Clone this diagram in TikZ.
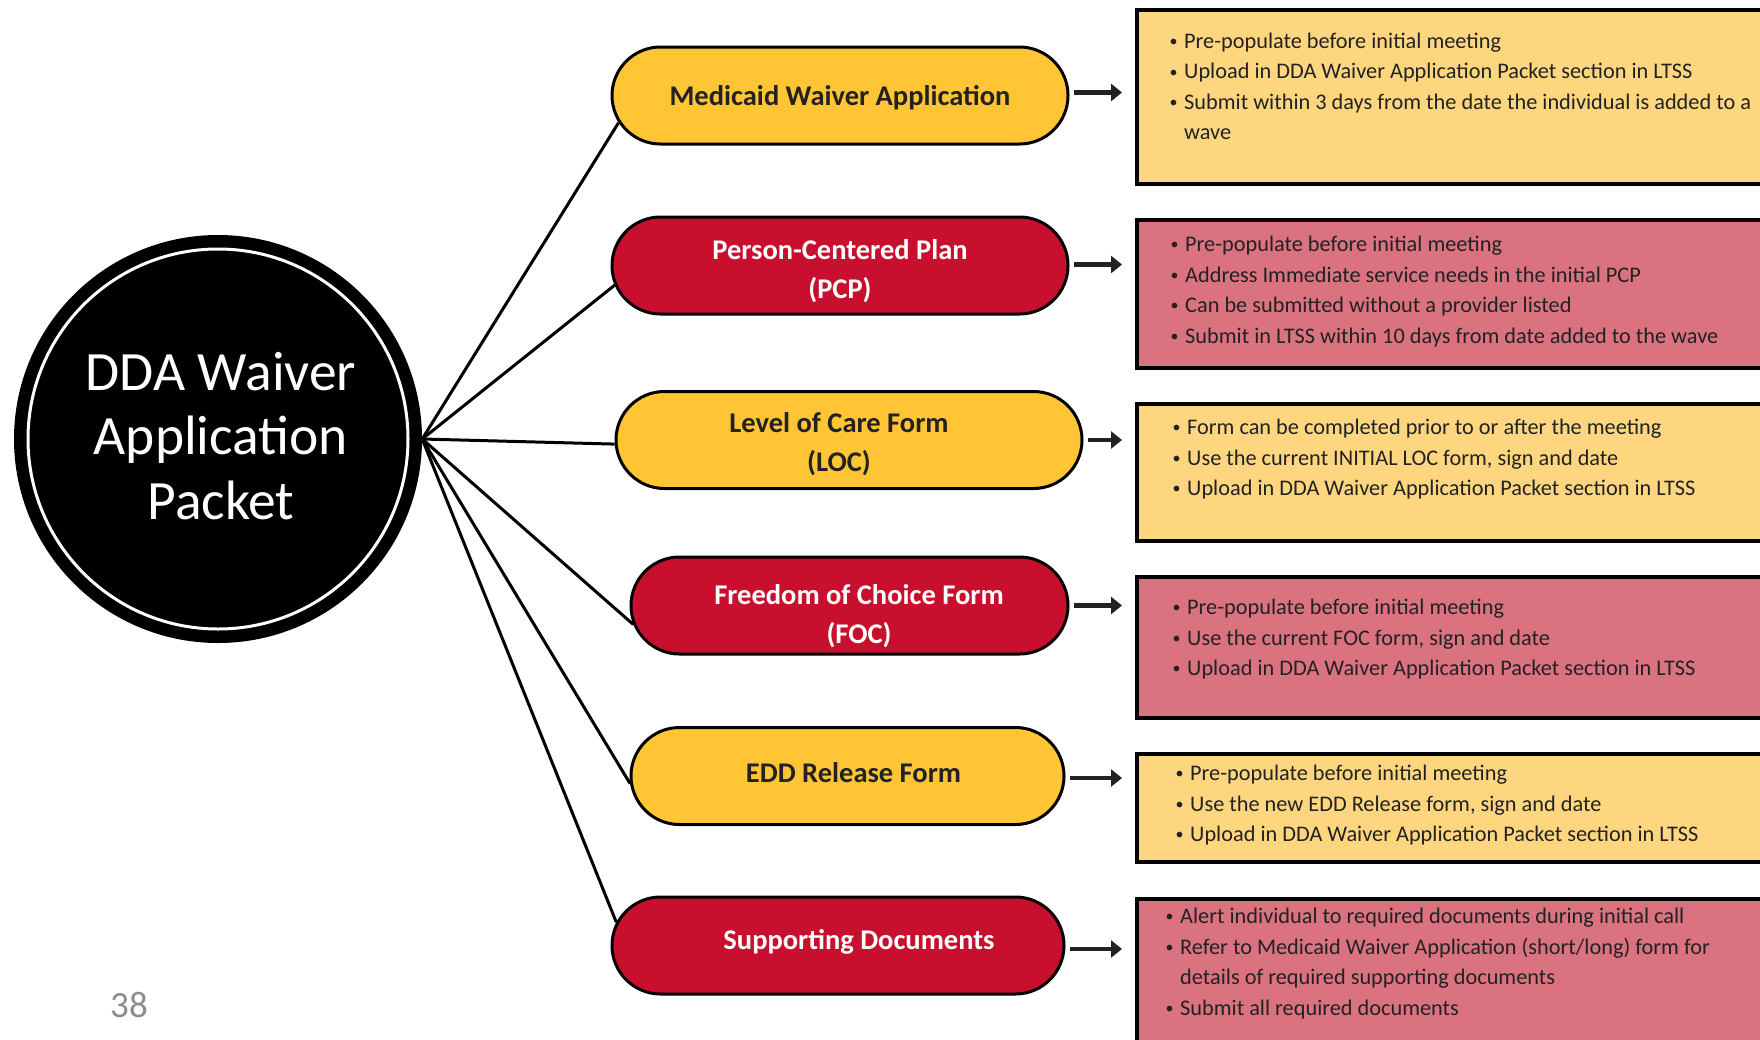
\documentclass[tikz,border=0pt]{standalone}
\usepackage{fontspec}
\setmainfont{Carlito}
\usetikzlibrary{shapes.misc,arrows.meta}
\definecolor{pillY}{HTML}{FFC535}
\definecolor{pillR}{HTML}{C8102E}
\definecolor{boxY}{HTML}{FED67F}
\definecolor{boxR}{HTML}{DB7280}
\definecolor{ink}{HTML}{222222}
\definecolor{pagegray}{HTML}{8C8C8C}
\newcommand{\bul}{\makebox[13pt][l]{\hspace{-1.5pt}\raisebox{1.8pt}{\fontsize{16}{16}\selectfont\textbullet}}}
\newcommand{\cont}{\hspace*{13pt}}
\tikzset{
  pill/.style={rounded rectangle, draw=black, line width=3pt, minimum height=97pt, inner sep=0pt},
  pillyellow/.style={pill, fill=pillY},
  pillred/.style={pill, fill=pillR},
  pilllabel/.style={align=center, inner sep=0pt, font=\fontsize{28.5}{39}\selectfont\bfseries},
  darklabel/.style={pilllabel, text=ink},
  lightlabel/.style={pilllabel, text=white},
  infobox/.style={rectangle, draw=black, line width=3.5pt, minimum width=680pt, anchor=north west, inner sep=0pt},
  infoyellow/.style={infobox, fill=boxY},
  infored/.style={infobox, fill=boxR},
  listtext/.style={anchor=north west, inner sep=0pt, align=left, text=ink, font=\fontsize{22.3}{30.5}\selectfont},
  spoke/.style={draw=black, line width=3pt},
  pointer/.style={draw=ink, line width=4.5pt, -{Triangle[length=11pt,width=17pt]}, shorten <=4pt, shorten >=13pt},
}
\begin{document}
\begin{tikzpicture}[x=1pt,y=-1pt]
\useasboundingbox (0,0) rectangle (1760,1039);

% central circle
\node[circle, fill=black, minimum size=408pt, inner sep=0pt] (hub) at (218,439) {};
\draw[white, line width=3pt] (hub.center) circle (190);
\node[align=center, text=white, font=\fontsize{55.5}{64.5}\selectfont] (hubtext) at (221,436) {DDA Waiver\\Application\\Packet};

% pills
\node[pillyellow, minimum width=456pt] (p1) at (840,95.5) {};
\node[pillred, minimum width=456pt] (p2) at (840,265.5) {};
\node[pillyellow, minimum width=466pt] (p3) at (849,440) {};
\node[pillred, minimum width=437pt] (p4) at (849.5,605.5) {};
\node[pillyellow, minimum width=433pt] (p5) at (847.5,776) {};
\node[pillred, minimum width=452pt] (p6) at (838,945.5) {};

\node[darklabel] (l1) at ([yshift=-2.2pt]p1.center) {Medicaid Waiver Application};
\node[lightlabel] (l2) at ([yshift=-5.6pt]p2.center) {Person-Centered Plan\\(PCP)};
\node[darklabel] (l3) at ([xshift=-10pt,yshift=-4.5pt]p3.center) {Level of Care Form\\(LOC)};
\node[lightlabel] (l4) at ([xshift=9.5pt,yshift=-11pt]p4.center) {Freedom of Choice Form\\(FOC)};
\node[darklabel] (l5) at ([xshift=6pt,yshift=3.4pt]p5.center) {EDD Release Form};
\node[lightlabel] (l6) at ([xshift=21pt,yshift=3.4pt]p6.center) {Supporting Documents};

% spokes
\draw[spoke] (hub.east) -- (p1.187);
\draw[spoke] (hub.east) -- (p2.185);
\draw[spoke] (hub.east) -- (p3.181);
\draw[spoke] (hub.east) -- (p4.185);
\draw[spoke] (hub.east) -- (p5.182);
\draw[spoke] (hub.east) -- (p6.174);

% info boxes
\node[infoyellow, minimum height=174pt] (b1) at (1135,8) {};
\node[infored, minimum height=148pt] (b2) at (1135,218) {};
\node[infoyellow, minimum height=137pt] (b3) at (1135,402) {};
\node[infored, minimum height=141pt] (b4) at (1135,575) {};
\node[infoyellow, minimum height=108pt] (b5) at (1135,752) {};
\node[infored, minimum height=160pt] (b6) at (1135,897) {};

% arrows
\draw[pointer] ([yshift=3pt]p1.east) -- ([yshift=3pt]p1.east -| b1.west);
\draw[pointer] ([yshift=1pt]p2.east) -- ([yshift=1pt]p2.east -| b2.west);
\draw[pointer] (p3.east) -- (p3.east -| b3.west);
\draw[pointer] (p4.east) -- (p4.east -| b4.west);
\draw[pointer] ([yshift=-2pt]p5.east) -- ([yshift=-2pt]p5.east -| b5.west);
\draw[pointer] ([yshift=-3.5pt]p6.east) -- ([yshift=-3.5pt]p6.east -| b6.west);

% texts
\node[listtext] (t1) at (1171,32.7) {\bul Pre-populate before initial meeting\\
\bul Upload in DDA Waiver Application Packet section in LTSS\\
\bul Submit within 3 days from the date the individual is added to a\\
\cont wave};
\node[listtext] (t2) at (1172,236) {\bul Pre-populate before initial meeting\\
\bul Address Immediate service needs in the initial PCP\\
\bul Can be submitted without a provider listed\\
\bul Submit in LTSS within 10 days from date added to the wave};
\node[listtext] (t3) at (1174,419) {\bul Form can be completed prior to or after the meeting\\
\bul Use the current INITIAL LOC form, sign and date\\
\bul Upload in DDA Waiver Application Packet section in LTSS};
\node[listtext] (t4) at (1174,599) {\bul Pre-populate before initial meeting\\
\bul Use the current FOC form, sign and date\\
\bul Upload in DDA Waiver Application Packet section in LTSS};
\node[listtext] (t5) at (1177,765) {\bul Pre-populate before initial meeting\\
\bul Use the new EDD Release form, sign and date\\
\bul Upload in DDA Waiver Application Packet section in LTSS};
\node[listtext] (t6) at (1167,908) {\bul Alert individual to required documents during initial call\\
\bul Refer to Medicaid Waiver Application (short/long) form for\\
\cont details of required supporting documents\\
\bul Submit all required documents};

% page number
\node[text=pagegray, font=\fontsize{37}{37}\selectfont] (pagenum) at (129,1005) {38};
\end{tikzpicture}
\end{document}
